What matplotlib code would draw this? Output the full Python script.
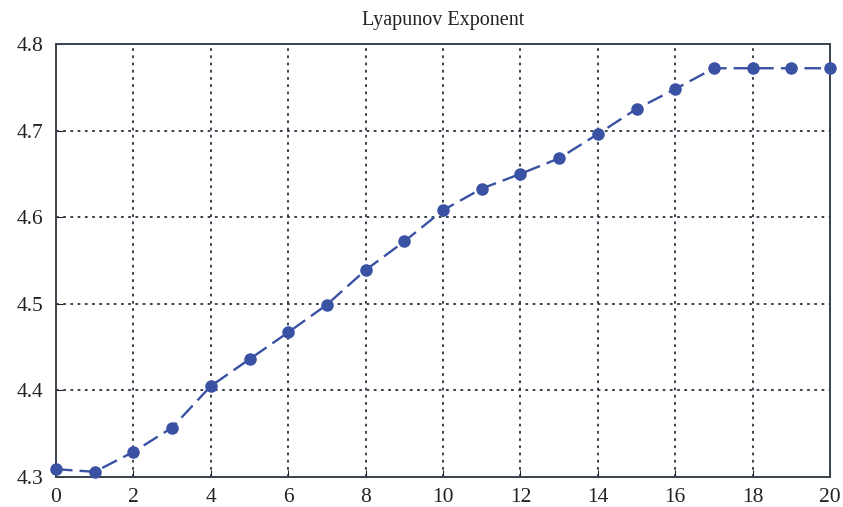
import matplotlib
matplotlib.use("Agg")
import matplotlib.pyplot as plt
import numpy as np

# values
steps = list(range(0, 21))
lyapunov = [4.309, 4.306, 4.329, 4.357, 4.405, 4.436, 4.467, 4.499, 4.539, 4.572,
            4.608, 4.633, 4.650, 4.668, 4.696, 4.725, 4.748, 4.772, 4.772, 4.772, 4.772]
x_ticks = np.arange(0, 21, 2)
y_ticks = [4.3, 4.4, 4.5, 4.6, 4.7, 4.8]

plt.rcParams["font.family"] = ["Liberation Serif", "DejaVu Serif"]

fig = plt.figure(figsize=(8.43, 5.07), dpi=100)
ax = fig.add_axes([56 / 843, 1 - 477 / 507, 774 / 843, 433 / 507])

ax.plot(steps, lyapunov, color="#3a52a4", linestyle=(0, (7, 3)), linewidth=1.7,
        marker="o", markersize=8, clip_on=False, zorder=3)

ax.set_xlim(0, 20)
ax.set_ylim(4.3, 4.8)
ax.set_xticks(x_ticks)
ax.set_yticks(y_ticks)
ax.set_yticklabels([f"{v:.1f}" for v in y_ticks])
ax.grid(True, color="#2b3340", linestyle=(0, (1.5, 2.5)), linewidth=1.3)
ax.tick_params(direction="in", labelsize=15.5, colors="#222222", length=5)
ax.tick_params(axis="y", pad=9)
ax.tick_params(axis="x", pad=8)
for s in ax.spines.values():
    s.set_color("#3a434d")
    s.set_linewidth(1.4)

ax.set_title("Lyapunov Exponent", fontsize=14.5, color="#222222", pad=14)

fig.savefig("out.png", dpi=100)
